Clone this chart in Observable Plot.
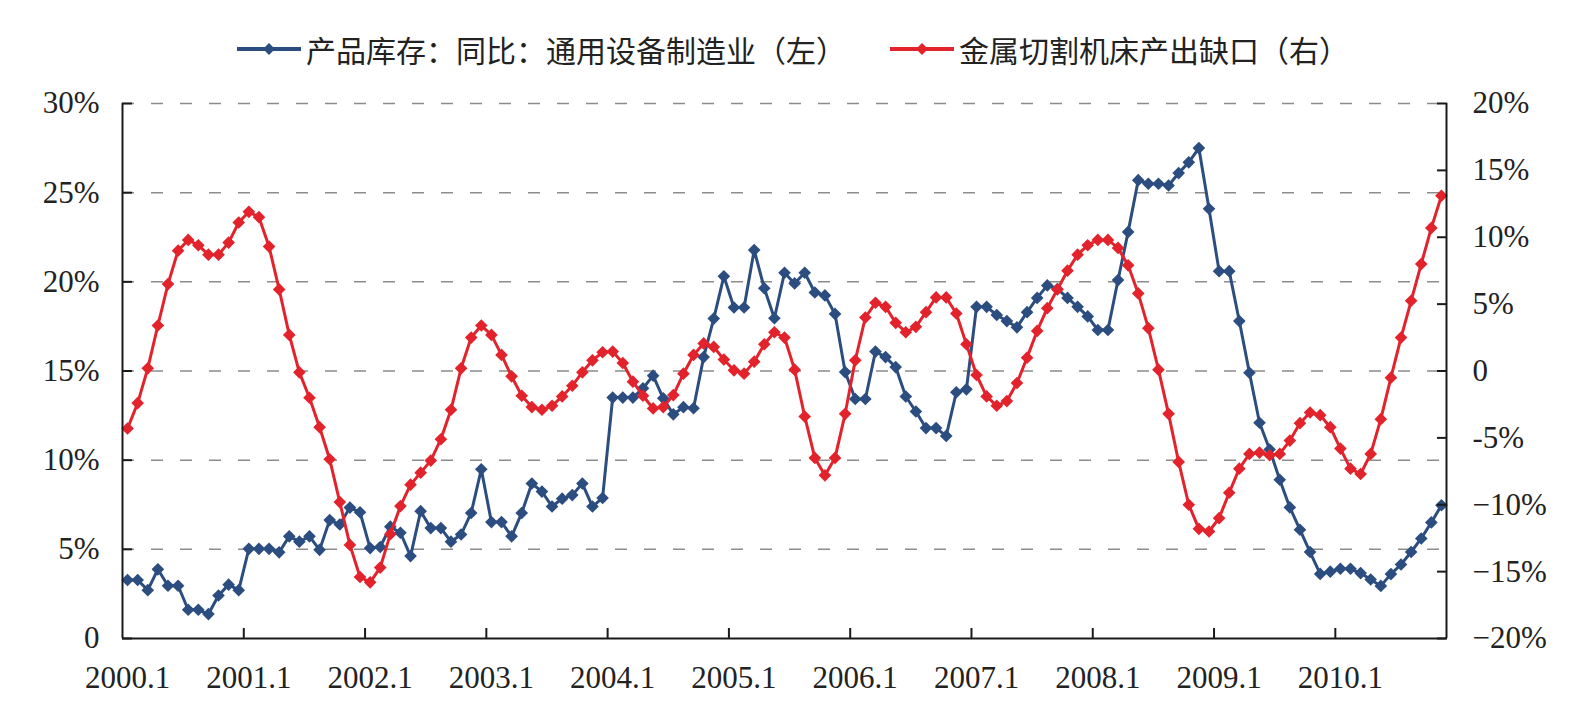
<!DOCTYPE html>
<html>
<head>
<meta charset="utf-8">
<script src="https://cdn.jsdelivr.net/npm/d3@7"></script>
<script src="https://cdn.jsdelivr.net/npm/@observablehq/plot@0.6"></script>
<style>
  body { margin: 0; background: #fff; }
  #legend {
    height: 80px; box-sizing: border-box; padding-top: 18px;
    display: flex; justify-content: center; align-items: center;
    font-family: "Noto Sans CJK SC", sans-serif; font-size: 30px; color: #222;
  }
  .item { display: flex; align-items: center; }
  .item + .item { margin-left: 44px; }
  .item svg { margin-right: 5px; }
</style>
</head>
<body>
<div id="legend"></div>
<div id="chart"></div>
<script>
// Monthly series, 2000.1 – 2010.11 (one value per month)
const yearLabels = ["2000.1","2001.1","2002.1","2003.1","2004.1","2005.1","2006.1","2007.1","2008.1","2009.1","2010.1"];

// 产品库存：同比：通用设备制造业 (left axis, %)
const inventoryYoY = [
  3.28, 3.28, 2.71, 3.88, 2.96, 2.96, 1.61, 1.61, 1.37, 2.41, 3.02, 2.71,
  5.03, 5.03, 5.03, 4.83, 5.73, 5.43, 5.73, 4.97, 6.64, 6.39, 7.34, 7.08,
  5.07, 5.13, 6.27, 5.93, 4.62, 7.14, 6.19, 6.19, 5.43, 5.83, 7.04, 9.49,
  6.53, 6.53, 5.73, 7.04, 8.69, 8.24, 7.40, 7.84, 8.04, 8.69, 7.40, 7.88,
  13.51, 13.51, 13.51, 14.03, 14.74, 13.47, 12.57, 12.97, 12.91, 15.78, 17.94, 20.31,
  18.56, 18.56, 21.78, 19.64, 17.96, 20.51, 19.91, 20.51, 19.40, 19.24, 18.20, 14.94,
  13.43, 13.43, 16.09, 15.78, 15.22, 13.57, 12.73, 11.80, 11.80, 11.36, 13.81, 13.97,
  18.60, 18.60, 18.14, 17.80, 17.45, 18.30, 19.10, 19.80, 19.60, 19.10, 18.60, 18.06,
  17.30, 17.30, 20.10, 22.80, 25.70, 25.50, 25.50, 25.40, 26.10, 26.70, 27.50, 24.10,
  20.60, 20.60, 17.80, 14.90, 12.10, 10.60, 8.90, 7.35, 6.10, 4.85, 3.62, 3.75,
  3.91, 3.91, 3.67, 3.31, 2.95, 3.61, 4.15, 4.85, 5.61, 6.51, 7.47
];

// 金属切割机床产出缺口 (right axis, %)
const outputGap = [
  -4.3, -2.4, 0.2, 3.4, 6.5, 9.0, 9.8, 9.4, 8.7, 8.7, 9.6, 11.1,
  11.9, 11.5, 9.3, 6.1, 2.7, -0.1, -2.0, -4.2, -6.6, -9.8, -13.0, -15.4,
  -15.8, -14.7, -12.2, -10.1, -8.5, -7.6, -6.7, -5.1, -2.9, 0.2, 2.5, 3.4,
  2.7, 1.2, -0.4, -1.85, -2.7, -2.9, -2.6, -1.9, -1.1, -0.1, 0.8, 1.4,
  1.45, 0.6, -0.8, -1.85, -2.8, -2.7, -1.8, -0.2, 1.2, 2.06, 1.8, 0.86,
  0.05, -0.2, 0.7, 2.0, 2.9, 2.5, 0.1, -3.4, -6.5, -7.8, -6.5, -3.2,
  0.8, 4.0, 5.1, 4.8, 3.6, 2.9, 3.3, 4.4, 5.5, 5.5, 4.3, 2.0,
  -0.3, -1.9, -2.6, -2.25, -0.9, 1.0, 3.0, 4.7, 6.1, 7.5, 8.7, 9.4,
  9.8, 9.8, 9.2, 7.9, 5.8, 3.2, 0.1, -3.2, -6.8, -10.0, -11.8, -12.0,
  -11.0, -9.1, -7.3, -6.2, -6.1, -6.3, -6.2, -5.2, -3.9, -3.1, -3.3, -4.2,
  -5.8, -7.3, -7.7, -6.2, -3.6, -0.5, 2.5, 5.25, 8.0, 10.7, 13.1
];

const leftTicks = [0, 5, 10, 15, 20, 25, 30];
const rightTicks = [-20, -15, -10, -5, 0, 5, 10, 15, 20];
const seriesNames = ["产品库存：同比：通用设备制造业（左）", "金属切割机床产出缺口（右）"];
const seriesColors = ["#2c4d80", "#e3232c"];

// The right axis (−20%..20%) shares the plot height with the left axis (0..30%)
const rightToLeft = v => (v + 20) * 30 / 40;
const leftToRight = v => v * 40 / 30 - 20;

const leftLabel = v => v === 0 ? "0" : `${v}%`;
const rightLabel = v => {
  if (v === 0) return "0";
  if (v === -5) return "-5%";
  return v < 0 ? `\u2212${-v}%` : `${v}%`;
};

const months = inventoryYoY.length;
const blueRows = inventoryYoY.map((v, i) => ({pos: i + 0.5, v}));
const redRows = outputGap.map((v, i) => ({pos: i + 0.5, v: rightToLeft(v)}));
const yearBounds = d3.range(12, months, 12);
const yearCenters = yearLabels.map((_, k) => k * 12 + 0.5);

// Legend
const legend = document.getElementById("legend");
seriesNames.forEach((name, k) => {
  const item = document.createElement("div");
  item.className = "item";
  item.innerHTML = `<svg width="64" height="16"><line x1="0" x2="64" y1="8" y2="8" stroke="${seriesColors[k]}" stroke-width="4"/>` +
    `<path d="M32,2L38,8L32,14L26,8Z" fill="${seriesColors[k]}"/></svg><span>${name}</span>`;
  legend.appendChild(item);
});

const axisColor = "#1a1a1a";

const chart = Plot.plot({
  width: 1586,
  height: 636,
  marginTop: 23,
  marginBottom: 78,
  marginLeft: 122,
  marginRight: 140,
  style: {fontFamily: "'Liberation Serif', 'Times New Roman', serif", fontSize: "31px", color: "#222", background: "#fff"},
  x: {domain: [0, months], axis: null},
  y: {domain: [0, 30], axis: null},
  marks: [
    Plot.ruleY(leftTicks.filter(v => v > 0), {stroke: "#8c8c8c", strokeWidth: 1.5, strokeDasharray: "12,17"}),
    Plot.line(blueRows, {x: "pos", y: "v", stroke: seriesColors[0], strokeWidth: 3}),
    Plot.dot(blueRows, {x: "pos", y: "v", symbol: "diamond2", r: 5.7, fill: seriesColors[0], stroke: "none"}),
    Plot.line(redRows, {x: "pos", y: "v", stroke: seriesColors[1], strokeWidth: 3}),
    Plot.dot(redRows, {x: "pos", y: "v", symbol: "diamond2", r: 5.7, fill: seriesColors[1], stroke: "none"}),
    // frame: left, right and bottom axis lines
    Plot.ruleX([0, months], {stroke: axisColor, strokeWidth: 2}),
    Plot.ruleY([0], {stroke: axisColor, strokeWidth: 2}),
    // left axis
    Plot.axisY(leftTicks, {anchor: "left", label: null, tickSize: -10, tickPadding: 33, strokeWidth: 2, stroke: axisColor, fill: "#222", tickFormat: leftLabel}),
    // right axis
    Plot.axisY(rightTicks.map(rightToLeft), {anchor: "right", label: null, tickSize: -10, tickPadding: 36, strokeWidth: 2, stroke: axisColor, fill: "#222",
      tickFormat: v => rightLabel(Math.round(leftToRight(v))), textAnchor: "start"}),
    // x axis: ticks at year boundaries, labels centred on January
    Plot.axisX(yearBounds, {anchor: "bottom", label: null, tickSize: -10, strokeWidth: 2, stroke: axisColor, tickFormat: () => ""}),
    Plot.axisX(yearCenters, {anchor: "bottom", label: null, tickSize: 0, tickPadding: 27, fill: "#222", tickFormat: v => yearLabels[Math.round((v - 0.5) / 12)]})
  ]
});
document.getElementById("chart").appendChild(chart);
</script>
</body>
</html>
